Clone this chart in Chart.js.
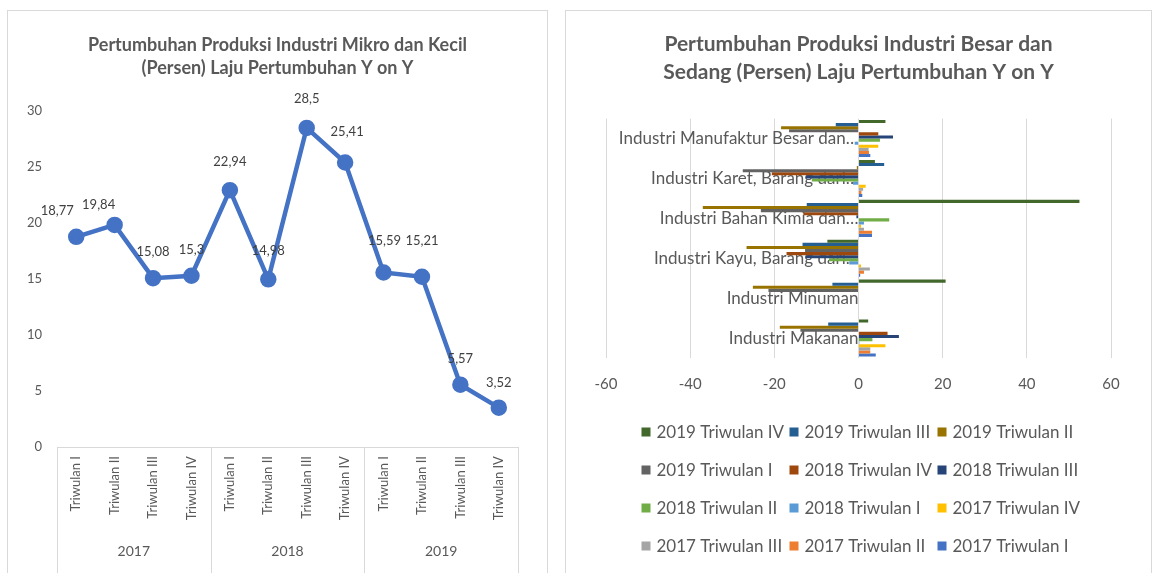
<!DOCTYPE html>
<html>
<head>
<meta charset="utf-8">
<script src="https://cdn.jsdelivr.net/npm/chart.js@4.4.0/dist/chart.umd.min.js"></script>
<style>
    body { margin: 0; width: 1152px; height: 573px; overflow: hidden; position: relative; background: #fff; font-family: Lato, sans-serif; }
    .frame { position: absolute; border: 1px solid #d9d9d9; background: #fff; overflow: hidden; }
    #leftFrame { left: 7px; top: 10px; width: 539px; height: 580px; }
    #rightFrame { left: 565px; top: 10px; width: 585px; height: 580px; }
    .frame .box { position: relative; width: 100%; height: 563px; }
</style>
</head>
<body>
<div class="frame" id="leftFrame"><div class="box"><canvas id="mikroChart"></canvas></div></div>
<div class="frame" id="rightFrame"><div class="box"><canvas id="besarChart"></canvas></div></div>

<script>
// left chart: micro & small industry growth (y on y)
const quarters = ['Triwulan I', 'Triwulan II', 'Triwulan III', 'Triwulan IV',
                  'Triwulan I', 'Triwulan II', 'Triwulan III', 'Triwulan IV',
                  'Triwulan I', 'Triwulan II', 'Triwulan III', 'Triwulan IV'];
const years = ['2017', '2018', '2019'];
const growthMikro = [18.77, 19.84, 15.08, 15.3, 22.94, 14.98, 28.5, 25.41, 15.59, 15.21, 5.57, 3.52];

// right chart: large & medium industry growth
const sectors = ['Industri Manufaktur Besar dan\u2026', 'Industri Karet, Barang dari\u2026',
                 'Industri Bahan Kimia dan\u2026', 'Industri Kayu, Barang dari\u2026',
                 'Industri Minuman', 'Industri Makanan'];
const seriesNames = ['2019 Triwulan IV', '2019 Triwulan III', '2019 Triwulan II', '2019 Triwulan I',
                     '2018 Triwulan IV', '2018 Triwulan III', '2018 Triwulan II', '2018 Triwulan I',
                     '2017 Triwulan IV', '2017 Triwulan III', '2017 Triwulan II', '2017 Triwulan I'];
const q4_2019 = [6.4, 3.9, 52.5, -7.4, 20.7, 2.3];
const q3_2019 = [-5.4, 6.1, -12.3, -13.3, -6.2, -7.2];
const q2_2019 = [-18.4, -0.4, -37.0, -26.6, -25.1, -18.7];
const q1_2019 = [-16.5, -27.5, -23.2, -12.7, -21.4, -13.8];
const q4_2018 = [4.7, -20.6, -13.1, -17.1, null, 6.9];
const q3_2018 = [8.2, -12.5, -0.5, -12.6, null, 9.6];
const q2_2018 = [5.1, -11.1, 7.3, -7.0, null, 3.3];
const q1_2018 = [-0.9, -1.3, 1.3, -2.2, null, 0.2];
const q4_2017 = [4.7, 1.7, 0.6, 0.6, null, 6.4];
const q3_2017 = [2.4, 1.1, 1.3, 2.7, null, 2.8];
const q2_2017 = [2.5, 0.7, 3.2, 1.3, null, 2.8];
const q1_2017 = [2.8, 0.9, 3.2, 0.4, null, 4.1];
const xTicks = [-60, -40, -20, 0, 20, 40, 60];

const seriesValues = [q4_2019, q3_2019, q2_2019, q1_2019, q4_2018, q3_2018,
                      q2_2018, q1_2018, q4_2017, q3_2017, q2_2017, q1_2017];
const seriesColors = ['#43682b', '#255e91', '#997300', '#636363', '#9e480e', '#264478',
                      '#70ad47', '#5b9bd5', '#ffc000', '#a5a5a5', '#ed7d31', '#4472c4'];

// label nudges (px) for the value labels on the line, like the hand placed ones in the sheet
const labelShift = [[-19, -26], [-16, -20], [0, -26], [0, -26], [0, -28], [0, -28],
                    [0, -29], [2, -31], [1, -32], [0, -36], [0, -26], [0, -25]];

const grey = '#595959';

// value labels above the points
const valueLabels = {
    id: 'valueLabels',
    afterDatasetsDraw(chart) {
        const ctx = chart.ctx;
        const meta = chart.getDatasetMeta(0);
        ctx.save();
        ctx.font = '13px Lato';
        ctx.fillStyle = '#404040';
        ctx.textAlign = 'center';
        ctx.textBaseline = 'middle';
        meta.data.forEach(function (pt, i) {
            const s = labelShift[i];
            ctx.fillText(String(growthMikro[i]).replace('.', ','), pt.x + s[0], pt.y + s[1]);
        });
        ctx.restore();
    }
};

// year separators below the axis
const yearDividers = {
    id: 'yearDividers',
    afterDraw(chart) {
        const x = chart.scales.x;
        const x2 = chart.scales.x2;
        const ctx = chart.ctx;
        ctx.save();
        ctx.strokeStyle = '#d9d9d9';
        ctx.lineWidth = 1;
        for (let i = 0; i <= quarters.length; i += 4) {
            const px = Math.round(x.getPixelForValue(i - 0.5)) + 0.5;
            ctx.beginPath();
            ctx.moveTo(px, x.top);
            ctx.lineTo(px, x2.bottom);
            ctx.stroke();
        }
        ctx.restore();
    }
};

// excel style legend: fixed columns, three per row
const gridLegend = {
    id: 'gridLegend',
    afterDraw(chart) {
        const ctx = chart.ctx;
        const sets = chart.data.datasets;
        const colW = 148, rowH = 38, box = 9;
        const total = colW * 2 + box + 6 + 127;
        const left = (chart.width - total) / 2 + 2;
        const top = chart.scales.x.bottom + 22;
        ctx.save();
        ctx.font = '17px Lato';
        ctx.textBaseline = 'middle';
        sets.forEach(function (ds, i) {
            const cx = left + (i % 3) * colW;
            const cy = top + Math.floor(i / 3) * rowH;
            ctx.fillStyle = ds.backgroundColor;
            ctx.fillRect(cx, cy - box / 2, box, box);
            ctx.fillStyle = grey;
            ctx.fillText(ds.label, cx + box + 6, cy + 1);
        });
        ctx.restore();
    }
};

new Chart(document.getElementById('mikroChart'), {
    type: 'line',
    data: {
        labels: quarters,
        datasets: [{
            data: growthMikro,
            borderColor: '#4472c4',
            backgroundColor: '#4472c4',
            borderWidth: 4.5,
            pointRadius: 6,
            pointBackgroundColor: '#4472c4',
            pointBorderColor: '#4472c4',
            tension: 0
        }]
    },
    options: {
        responsive: true,
        maintainAspectRatio: false,
        animation: false,
        layout: { padding: { left: 29, right: 29, top: 0, bottom: 0 } },
        plugins: {
            legend: { display: false },
            tooltip: { enabled: false },
            title: {
                display: true,
                text: ['Pertumbuhan Produksi Industri Mikro dan Kecil', '(Persen) Laju Pertumbuhan Y on Y'],
                color: grey,
                font: { family: 'Lato', size: 18, weight: 'bold', lineHeight: 1.28 },
                padding: { top: 23, bottom: 31 }
            }
        },
        scales: {
            x: {
                offset: true,
                grid: { display: false, drawTicks: false },
                border: { color: '#d9d9d9' },
                ticks: { color: grey, font: { family: 'Lato', size: 13 }, minRotation: 90, maxRotation: 90, autoSkip: false, padding: 9 }
            },
            x2: {
                type: 'category',
                labels: years,
                offset: true,
                position: 'bottom',
                grid: { display: false, drawTicks: false },
                border: { display: false },
                ticks: { color: grey, font: { family: 'Lato', size: 14 }, padding: 14 }
            },
            // spacer so the plot starts where the sheet's does, keeps the title centred
            yPad: {
                type: 'linear',
                position: 'left',
                afterFit: function (axis) { axis.width = 20; },
                ticks: { display: false },
                grid: { display: false, drawTicks: false },
                border: { display: false }
            },
            y: {
                min: 0,
                max: 30,
                // anchored a little left of the first category so the numbers sit clear of the plot
                position: { x: -0.89 },
                ticks: { stepSize: 5, color: grey, font: { family: 'Lato', size: 13 } },
                grid: { display: false, drawTicks: false },
                border: { display: false }
            }
        }
    },
    plugins: [valueLabels, yearDividers]
});

new Chart(document.getElementById('besarChart'), {
    type: 'bar',
    data: {
        labels: sectors,
        datasets: seriesNames.map(function (name, i) {
            return {
                label: name,
                data: seriesValues[i],
                backgroundColor: seriesColors[i],
                borderWidth: 0,
                categoryPercentage: 0.93,
                barPercentage: 1.0
            };
        })
    },
    options: {
        indexAxis: 'y',
        responsive: true,
        maintainAspectRatio: false,
        animation: false,
        layout: { padding: { left: 40, right: 40, top: 0, bottom: 164 } },
        plugins: {
            tooltip: { enabled: false },
            legend: { display: false },
            title: {
                display: true,
                text: ['Pertumbuhan Produksi Industri Besar dan', 'Sedang (Persen) Laju Pertumbuhan Y on Y'],
                color: grey,
                font: { family: 'Lato', size: 21, weight: 'bold', lineHeight: 1.3 },
                padding: { top: 20, bottom: 33 }
            }
        },
        scales: {
            x: {
                min: -60,
                max: 60,
                afterBuildTicks: function (axis) { axis.ticks = xTicks.map(function (v) { return { value: v }; }); },
                grid: { color: '#d9d9d9', drawTicks: false },
                border: { display: false },
                ticks: { color: grey, font: { family: 'Lato', size: 15 }, padding: 17 }
            },
            y: {
                position: { x: 0 },
                z: 1,
                grid: { display: false, drawTicks: false },
                border: { display: false },
                ticks: { color: grey, font: { family: 'Lato', size: 17 }, padding: 4 }
            }
        }
    },
    plugins: [gridLegend]
});
</script>
</body>
</html>
